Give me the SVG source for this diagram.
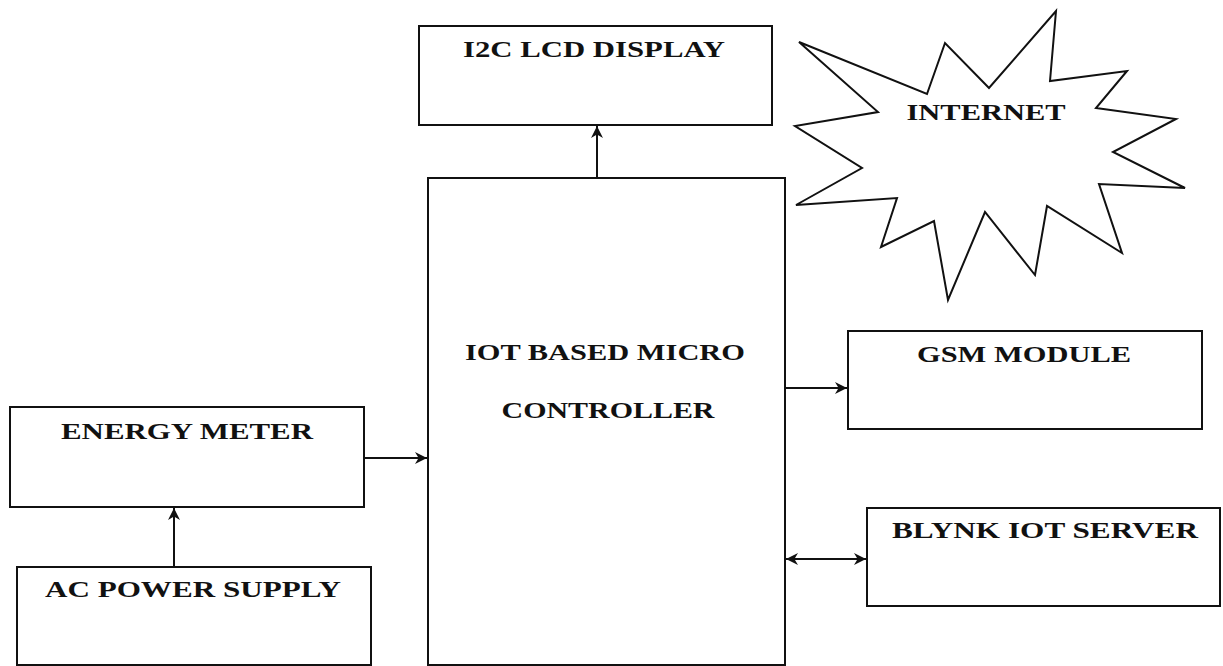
<svg xmlns="http://www.w3.org/2000/svg" width="1223" height="666" viewBox="0 0 1223 666">
<style>
.box{fill:#fff;stroke:#111;stroke-width:2}
.lbl{font-family:"Liberation Serif","Times New Roman",serif;font-weight:bold;font-size:24px;fill:#111;text-anchor:middle}
.con{stroke:#111;stroke-width:2;fill:none}
</style>
<defs>
<marker id="ah" viewBox="0 0 10 10" refX="10" refY="5" markerWidth="12" markerHeight="12" markerUnits="userSpaceOnUse" orient="auto-start-reverse">
<path d="M0,0 L10,5 L0,10 L3,5 Z" fill="#111"/>
</marker>
</defs>
<rect width="1223" height="666" fill="#fff"/>
<g id="lcd"><rect class="box" x="419" y="26" width="353" height="99"/><text class="lbl" x="594" y="57" textLength="262" lengthAdjust="spacingAndGlyphs">I2C LCD DISPLAY</text></g>
<g id="mcu"><rect class="box" x="428" y="178" width="357" height="487"/><text class="lbl" x="605" y="360" textLength="280" lengthAdjust="spacingAndGlyphs">IOT BASED MICRO</text><text class="lbl" x="608" y="418" textLength="213" lengthAdjust="spacingAndGlyphs">CONTROLLER</text></g>
<g id="internet"><polygon class="box" points="799,42 927,94 945,43 989,88 1056,11 1050,81 1127,71 1096,108 1176,119 1113,152 1185,188 1099,184 1122,253 1047,206 1035,275 985,212 948,300 934,221 881,247 897,198 796,205 862,168 795,126 878,112"/><text class="lbl" x="986" y="120" textLength="159" lengthAdjust="spacingAndGlyphs">INTERNET</text></g>
<g id="energy"><rect class="box" x="10" y="407" width="354" height="100"/><text class="lbl" x="187" y="439" textLength="252" lengthAdjust="spacingAndGlyphs">ENERGY METER</text></g>
<g id="ac"><rect class="box" x="17" y="567" width="354" height="98"/><text class="lbl" x="193" y="597" textLength="296" lengthAdjust="spacingAndGlyphs">AC POWER SUPPLY</text></g>
<g id="gsm"><rect class="box" x="848" y="331" width="354" height="98"/><text class="lbl" x="1024" y="362" textLength="214" lengthAdjust="spacingAndGlyphs">GSM MODULE</text></g>
<g id="blynk"><rect class="box" x="867" y="508" width="353" height="98"/><text class="lbl" x="1045" y="538" textLength="306" lengthAdjust="spacingAndGlyphs">BLYNK IOT SERVER</text></g>
<g id="connectors">
<line class="con" x1="597" y1="178" x2="597" y2="126" marker-end="url(#ah)"/>
<line class="con" x1="364" y1="458" x2="427" y2="458" marker-end="url(#ah)"/>
<line class="con" x1="174" y1="567" x2="174" y2="508" marker-end="url(#ah)"/>
<line class="con" x1="785" y1="388" x2="847" y2="388" marker-end="url(#ah)"/>
<line class="con" x1="786" y1="559" x2="866" y2="559" marker-start="url(#ah)" marker-end="url(#ah)"/>
</g>
</svg>
